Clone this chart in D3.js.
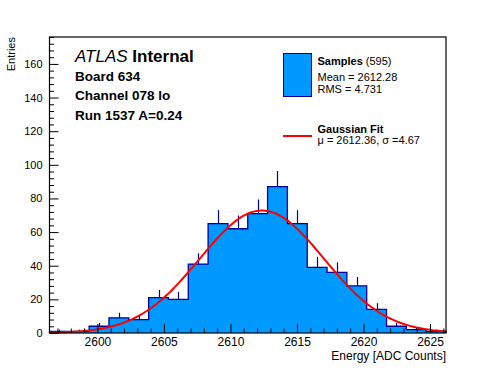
<!DOCTYPE html>
<html>
<head>
<meta charset="utf-8">
<script src="https://cdn.jsdelivr.net/npm/d3@7"></script>
<style>
  body { margin: 0; background: #fff; }
  svg { display: block; font-family: "Liberation Sans", Arial, sans-serif; }
</style>
</head>
<body>
<script>
// histogram: 20 bins between binStart and binEnd
var binStart = 2596.4;
var binEnd = 2626.2;
var counts = [1, 1, 4, 9, 8, 21, 20, 41, 65, 62, 71, 87, 65, 39, 36, 28, 14, 4, 2, 1];

// gaussian fit parameters
var fitConst = 72.8;
var fitMean = 2612.36;
var fitSigma = 4.67;

var xTicks = [2600, 2605, 2610, 2615, 2620, 2625];
var yTicks = [0, 20, 40, 60, 80, 100, 120, 140, 160];

var W = 496, H = 372;
var frameL = 49.5, frameR = 446, frameT = 37, frameB = 333;
var fill = "#0099ff", edge = "#000099";

var svg = d3.select("body").append("svg").attr("width", W).attr("height", H);

var x = d3.scaleLinear().domain([binStart, binEnd]).range([frameL, frameR]);
var y = d3.scaleLinear().domain([0, 176]).range([frameB, frameT]);

var bw = (binEnd - binStart) / counts.length;
var bins = counts.map(function(c, i) {
  return { x0: binStart + i * bw, x1: binStart + (i + 1) * bw, n: c };
});

// step outline, also used closed for the fill
var step = [[bins[0].x0, 0]];
bins.forEach(function(d) { step.push([d.x0, d.n]); step.push([d.x1, d.n]); });
step.push([bins[bins.length - 1].x1, 0]);
var stepLine = d3.line().x(function(p) { return x(p[0]); }).y(function(p) { return y(p[1]); });

svg.append("path").attr("d", stepLine(step) + "Z").attr("fill", fill).attr("stroke", "none");
svg.append("path").attr("d", stepLine(step))
  .attr("fill", "none").attr("stroke", edge).attr("stroke-width", 1.3);

// error bars (upper half only is visible above the fill)
svg.append("g").selectAll("line").data(bins.filter(function(d) { return d.n > 0; })).enter().append("line")
  .attr("x1", function(d) { return Math.round(x((d.x0 + d.x1) / 2)) + 0.5; })
  .attr("x2", function(d) { return Math.round(x((d.x0 + d.x1) / 2)) + 0.5; })
  .attr("y1", function(d) { return y(d.n); })
  .attr("y2", function(d) { return y(d.n + Math.sqrt(d.n)); })
  .attr("stroke", edge).attr("stroke-width", 1.2);

// fit curve
var fx = d3.range(200).map(function(i) { return binStart + i * (binEnd - binStart) / 199; });
var gauss = function(v) { return fitConst * Math.exp(-0.5 * Math.pow((v - fitMean) / fitSigma, 2)); };
svg.append("path")
  .attr("d", d3.line().x(function(v) { return x(v); }).y(function(v) { return y(gauss(v)); })(fx))
  .attr("fill", "none").attr("stroke", "#ff0000").attr("stroke-width", 2);

// frame
svg.append("rect").attr("x", frameL).attr("y", frameT)
  .attr("width", frameR - frameL).attr("height", frameB - frameT)
  .attr("fill", "none").attr("stroke", "#000").attr("stroke-width", 1.2);

// x axis: major + minor ticks pointing inward
var xMinor = d3.range(2597, 2627).filter(function(v) { return v % 5 !== 0; });
svg.append("g").attr("transform", "translate(0," + frameB + ")")
  .call(d3.axisBottom(x).tickValues(xMinor).tickSize(-4.5).tickFormat(""))
  .call(function(g) { g.select(".domain").remove(); });
var gx = svg.append("g").attr("transform", "translate(0," + frameB + ")")
  .call(d3.axisBottom(x).tickValues(xTicks).tickSize(-9).tickPadding(4).tickFormat(d3.format("d")));
gx.select(".domain").remove();
gx.selectAll("text").attr("font-size", 12).attr("fill", "#000")
  .attr("font-family", "Liberation Sans, Arial, sans-serif");

// y axis
var yMinor = d3.range(4, 177, 4).filter(function(v) { return v % 20 !== 0; });
svg.append("g").attr("transform", "translate(" + frameL + ",0)")
  .call(d3.axisLeft(y).tickValues(yMinor).tickSize(-4.5).tickFormat(""))
  .call(function(g) { g.select(".domain").remove(); });
var gy = svg.append("g").attr("transform", "translate(" + frameL + ",0)")
  .call(d3.axisLeft(y).tickValues(yTicks).tickSize(-9).tickPadding(7));
gy.select(".domain").remove();
gy.selectAll("text").attr("font-size", 11).attr("fill", "#000")
  .attr("font-family", "Liberation Sans, Arial, sans-serif");
svg.selectAll(".tick line").attr("stroke", "#000");

// axis titles
svg.append("text").attr("x", frameR).attr("y", 359.5).attr("text-anchor", "end")
  .attr("font-size", 12).text("Energy [ADC Counts]");
svg.append("text").attr("transform", "translate(15," + frameT + ") rotate(-90)")
  .attr("text-anchor", "end").attr("font-size", 11).text("Entries");

// labels block
var lab = svg.append("g");
var t0 = lab.append("text").attr("x", 75).attr("y", 62).attr("font-size", 17);
t0.append("tspan").attr("font-style", "italic").text("ATLAS");
t0.append("tspan").attr("font-weight", "bold").text(" Internal");
["Board 634", "Channel 078 lo", "Run 1537 A=0.24"].forEach(function(s, i) {
  lab.append("text").attr("x", 75).attr("y", 81 + i * 19.3)
    .attr("font-size", 13.5).attr("font-weight", "bold").text(s);
});

// legend
var lg = svg.append("g");
lg.append("rect").attr("x", 283.5).attr("y", 53.5).attr("width", 28).attr("height", 43)
  .attr("fill", fill).attr("stroke", edge).attr("stroke-width", 1);
var s1 = lg.append("text").attr("x", 317.5).attr("y", 65).attr("font-size", 11);
s1.append("tspan").attr("font-weight", "bold").text("Samples");
s1.append("tspan").text(" (595)");
lg.append("text").attr("x", 317.5).attr("y", 80.7).attr("font-size", 11).text("Mean = 2612.28");
lg.append("text").attr("x", 317.5).attr("y", 93.3).attr("font-size", 11).text("RMS = 4.731");
lg.append("line").attr("x1", 283).attr("x2", 312).attr("y1", 136).attr("y2", 136)
  .attr("stroke", "#ff0000").attr("stroke-width", 2);
lg.append("text").attr("x", 317.5).attr("y", 132.7).attr("font-size", 11)
  .attr("font-weight", "bold").text("Gaussian Fit");
lg.append("text").attr("x", 317.5).attr("y", 144.3).attr("font-size", 11)
  .text("\u03bc = 2612.36, \u03c3 =4.67");
</script>
</body>
</html>
